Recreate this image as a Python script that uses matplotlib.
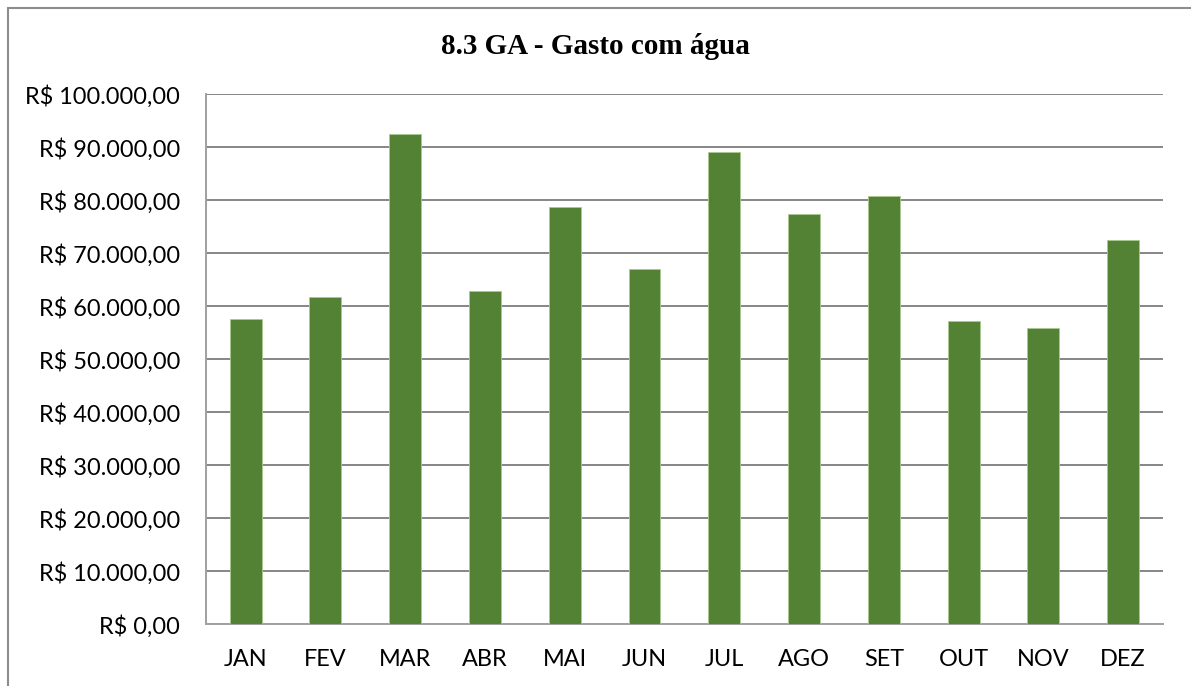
import matplotlib.pyplot as plt
from matplotlib.patches import Rectangle

meses = ['JAN', 'FEV', 'MAR', 'ABR', 'MAI', 'JUN',
         'JUL', 'AGO', 'SET', 'OUT', 'NOV', 'DEZ']
gasto = [57650, 61750, 92450, 62900, 78800, 67000,
         89050, 77400, 80750, 57200, 55850, 72600]
yticks = list(range(0, 100001, 10000))


def brl(v):
    s = '{:,.2f}'.format(v)
    s = s.replace(',', 'X').replace('.', ',').replace('X', '.')
    return 'R$ ' + s


fig = plt.figure(figsize=(11.91, 6.86), dpi=100)
ax = fig.add_axes([205.7 / 1191, 1 - 624.3 / 686,
                   (1163 - 205.7) / 1191, (624.3 - 94.3) / 686])

# moldura do gráfico (cortada à direita e embaixo como no original)
fig.patches.append(Rectangle((8 / 1191, -0.1), 1.2, 1 - 7.5 / 686 + 0.1,
                             transform=fig.transFigure, fill=False,
                             edgecolor='#8c8c8c', linewidth=1.5))

x = range(len(meses))
ax.bar(x, gasto, width=0.4, color='#548235', edgecolor='#a9c98f',
       linewidth=0.6, zorder=3)

ax.set_xlim(-0.5, len(meses) - 0.5)
ax.set_ylim(0, 100000)
ax.set_yticks(yticks)
ax.set_yticklabels([brl(v) for v in yticks], fontfamily='Lato', fontsize=16.9)
ax.set_xticks(list(x))
ax.set_xticklabels(meses, fontfamily='Lato', fontsize=16.9)
ax.tick_params(axis='both', length=0)
ax.tick_params(axis='y', pad=18.5)
ax.tick_params(axis='x', pad=17.5)

ax.grid(axis='y', color='#868686', linewidth=1.4, zorder=0)
for s in ['top', 'right']:
    ax.spines[s].set_visible(False)
for s in ['left', 'bottom']:
    ax.spines[s].set_color('#a0a0a0')
    ax.spines[s].set_linewidth(1.4)

fig.text(0.5, 1 - 47 / 686, '8.3 GA - Gasto com água', ha='center', va='center',
         fontfamily='Liberation Serif', fontweight='bold', fontsize=21)

fig.savefig('out.png', dpi=100)
